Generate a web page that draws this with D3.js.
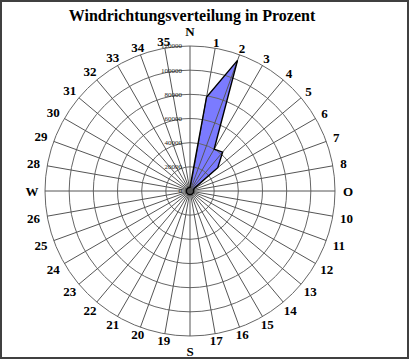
<!DOCTYPE html>
<html><head><meta charset="utf-8">
<script src="https://cdn.jsdelivr.net/npm/d3@7"></script>
<style>html,body{margin:0;padding:0;background:#fff;}svg{display:block;}</style>
</head><body>
<svg id="c" width="409" height="359"></svg>
<script>
const title = "Windrichtungsverteilung in Prozent";
const categories = ["N","1","2","3","4","5","6","7","8","O","10","11","12","13","14","15","16","17","S","19","20","21","22","23","24","25","26","W","28","29","30","31","32","33","34","35"];
const values = [3000,79000,115000,40000,42000,30000,4000,3000,3000,3000,3000,3000,3000,3000,3000,3000,3000,3000,3000,3000,3000,3000,3000,3000,3000,3000,3000,3000,3000,3000,3000,3000,3000,3000,3000,3000];
const radialTicks = [0,20000,40000,60000,80000,100000,120000];

const svg = d3.select("#c");
const cx = 190, cy = 191, R = 145;
const n = categories.length;
const ang = d3.scaleLinear().domain([0, n]).range([0, 2*Math.PI]);
const r = d3.scaleLinear().domain([0, 120000]).range([0, R]);
const g = svg.append("g").attr("transform", `translate(${cx},${cy})`);

// border
svg.append("rect").attr("x",1).attr("y",1).attr("width",407).attr("height",357)
  .attr("fill","none").attr("stroke","#404040").attr("stroke-width",2);

// title
svg.append("text").attr("x",192).attr("y",21).attr("text-anchor","middle")
  .attr("font-family","'Liberation Serif','Times New Roman',serif").attr("font-weight","bold")
  .attr("font-size",16).attr("fill","#000").text(title);

// data polygon
const line = d3.lineRadial().angle((d,i)=>ang(i)).radius(d=>r(d)).curve(d3.curveLinearClosed);
g.append("path").attr("d", line(values)).attr("fill","#7b7bff").attr("stroke","none");

// grid rings
g.selectAll("circle.ring").data(radialTicks.slice(1)).join("circle")
  .attr("r", d=>r(d)).attr("fill","none").attr("stroke","#666").attr("stroke-width",1);
// spokes
g.selectAll("line.spoke").data(categories).join("line")
  .attr("x1",0).attr("y1",0)
  .attr("x2",(d,i)=>R*Math.sin(ang(i))).attr("y2",(d,i)=>-R*Math.cos(ang(i)))
  .attr("stroke","#555").attr("stroke-width",1);

// polygon outline
g.append("path").attr("d", line(values)).attr("fill","none").attr("stroke","#000").attr("stroke-width",1.4).attr("stroke-linejoin","miter");

// radial tick labels
g.selectAll("text.tick").data(radialTicks).join("text")
  .attr("x",-8).attr("y",d=>-r(d)).attr("dy","0.35em").attr("text-anchor","end")
  .attr("font-family","'Liberation Serif','Times New Roman',serif").attr("font-size",7)
  .attr("fill","#222").text(d=>d);

// category labels
g.selectAll("text.cat").data(categories).join("text")
  .each(function(d,i){
    const a = ang(i);
    const s = Math.abs(Math.sin(a)), c = Math.abs(Math.cos(a));
    const letter = /[A-Z]/.test(d);
    let rr = 150 + 6*s + (d.length-1)*3*s + (letter ? 8*c + 2 : 0);
    d3.select(this).attr("x", rr*Math.sin(a)).attr("y", -rr*Math.cos(a));
  })
  .attr("text-anchor","middle").attr("dy","0.35em")
  .attr("font-family","'Liberation Serif','Times New Roman',serif").attr("font-weight","bold")
  .attr("font-size",13).attr("fill","#000").text(d=>d);
</script>
</body></html>
